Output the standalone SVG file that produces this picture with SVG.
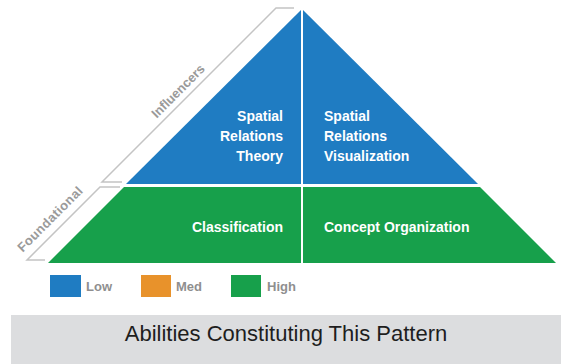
<svg xmlns="http://www.w3.org/2000/svg" width="565" height="364" viewBox="0 0 565 364">
<style>
.blue{fill:#1f7cc2}
.green{fill:#17a04b}
.lbl{font-family:"Liberation Sans",Arial,sans-serif;font-weight:bold;font-size:14px;fill:#ffffff}
.side{font-family:"Liberation Sans",Arial,sans-serif;font-weight:bold;font-size:13px;fill:#9a9a9a}
.leg{font-family:"Liberation Sans",Arial,sans-serif;font-weight:bold;font-size:13px;fill:#8f8f8f}
.bracket{fill:none;stroke:#c4c4c4;stroke-width:1.5}
</style>
<rect width="565" height="364" fill="#ffffff"/>
<g id="connectors">
<polyline class="bracket" points="294,8 276,8 102,182 122,182"/>
<polyline class="bracket" points="120,187 100,187 27,260 45,260"/>
</g>
<g id="influencers-label">
<text class="side" transform="translate(178,91) rotate(-45)" text-anchor="middle" dy="4.5">Influencers</text>
</g>
<g id="foundational-label">
<text class="side" transform="translate(50,219) rotate(-45)" text-anchor="middle" dy="4.5" letter-spacing="0.4">Foundational</text>
</g>
<g id="spatial-relations-theory">
<polygon class="blue" points="301,10 126,184 301,184"/>
<text class="lbl" text-anchor="end" x="283" y="121">Spatial</text>
<text class="lbl" text-anchor="end" x="283" y="141">Relations</text>
<text class="lbl" text-anchor="end" x="283" y="161">Theory</text>
</g>
<g id="spatial-relations-visualization">
<polygon class="blue" points="303,10 478,184 303,184"/>
<text class="lbl" x="324" y="121">Spatial</text>
<text class="lbl" x="324" y="141">Relations</text>
<text class="lbl" x="324" y="161">Visualization</text>
</g>
<g id="classification">
<polygon class="green" points="124,187 301,187 301,263 48,263"/>
<text class="lbl" text-anchor="end" x="283" y="232">Classification</text>
</g>
<g id="concept-organization">
<polygon class="green" points="303,187 480,187 556,263 303,263"/>
<text class="lbl" x="324" y="232">Concept Organization</text>
</g>
<g id="legend">
<rect x="50" y="275" width="31" height="22" fill="#1f7cc2"/>
<text class="leg" x="86" y="291">Low</text>
<rect x="141" y="275" width="30" height="22" fill="#e8922b"/>
<text class="leg" x="176" y="291">Med</text>
<rect x="231" y="275" width="30" height="22" fill="#17a04b"/>
<text class="leg" x="267" y="291">High</text>
</g>
<g id="caption">
<rect x="11" y="315" width="550" height="49" fill="#dcdddf"/>
<text x="286" y="341" text-anchor="middle" font-family="Liberation Sans, Arial, sans-serif" font-size="22" fill="#1e1e1e">Abilities Constituting This Pattern</text>
</g>
</svg>
